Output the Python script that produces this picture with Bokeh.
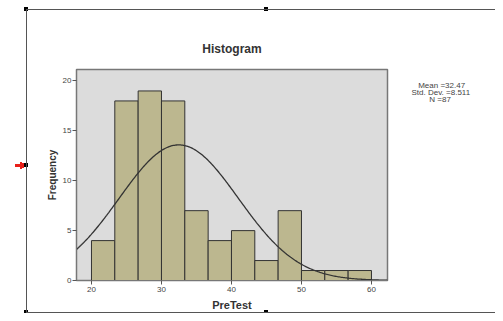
import numpy as np
from bokeh.plotting import figure
from bokeh.models import (FixedTicker, LinearAxis, ColumnDataSource, Range1d)
from bokeh.embed import file_html
from bokeh.resources import INLINE

# ---- data ----
counts = [4, 18, 19, 18, 7, 4, 5, 2, 7, 1, 1, 1]
bin_start = 20.0
bin_end = 60.0
mean = 32.47
std_dev = 8.511
n_obs = 87
x_ticks = [20, 30, 40, 50, 60]
y_ticks = [0, 5, 10, 15, 20]
stats_lines = ["Mean =32.47", "Std. Dev. =8.511", "N =87"]

FONT = "Liberation Sans"
X0, X1 = 17.86, 62.29
Y0, Y1 = 0.0, 21.15
FL, FT, FR, FB = 76, 69, 387, 282   # frame edges in canvas px
W, H = 495, 313
ky = (FB - FT) / (Y1 - Y0)

nb = len(counts)
width = (bin_end - bin_start) / nb
edges = bin_start + width * np.arange(nb + 1)
src = ColumnDataSource(dict(left=edges[:-1], right=edges[1:], top=counts,
                            bottom=[0] * nb))

# decorative outer chart frame, handles and red marker (page decoration)
deco = [  # (x, y, w, h, colour)
    (26, 9, 469, 1, "#555555"),
    (26, 9, 1, 304, "#555555"),
    (26, 312, 469, 1, "#555555"),
    (24, 7, 4, 4, "#000000"),
    (264, 7, 4, 4, "#000000"),
    (24, 163, 4, 4, "#000000"),
    (24, 310, 4, 4, "#000000"),
    (264, 310, 4, 4, "#000000"),
    (15, 164, 6, 3, "#e8201a"),
    (20, 162, 2, 7, "#e8201a"),
    (22, 163, 2, 5, "#e8201a"),
]
styles = {
    "background-image": ", ".join(f"linear-gradient({c},{c})" for *_, c in deco),
    "background-position": ", ".join(f"{x}px {y}px" for x, y, *_ in deco),
    "background-size": ", ".join(f"{w}px {h}px" for _, _, w, h, _ in deco),
    "background-repeat": "no-repeat",
}

p = figure(width=W, height=H, output_backend="svg", toolbar_location=None,
           x_range=Range1d(X0, X1), y_range=Range1d(Y0, Y1),
           min_border_left=FL, min_border_right=W - FR, min_border_top=FT,
           min_border_bottom=H - FB, styles=styles)
p.background_fill_color = "#dcdcdc"
p.border_fill_alpha = 0.0
p.outline_line_color = "#777777"
p.outline_line_width = 1.5
p.grid.visible = False

p.title.text = "Histogram"
p.title.align = "center"
p.title.text_font = FONT
p.title.text_font_size = "12px"
p.title.text_color = "#333333"
p.title.standoff = 28

p.quad(left="left", right="right", top="top", bottom="bottom", source=src,
       fill_color="#bcb78f", line_color="#333333", line_width=1)

xs = np.linspace(X0, X1, 300)
ys = n_obs * width / (std_dev * np.sqrt(2 * np.pi)) * np.exp(-0.5 * ((xs - mean) / std_dev) ** 2)
p.line(xs, ys, line_color="#333333", line_width=1.3)

for ax in (p.xaxis[0], p.yaxis[0]):
    ax.axis_line_color = "#777777"
    ax.major_tick_line_color = "#555555"
    ax.minor_tick_line_color = None
    ax.major_tick_out = 4
    ax.major_tick_in = 0
    ax.major_label_text_font = FONT
    ax.major_label_text_font_size = "8px"
    ax.major_label_text_color = "#444444"
    ax.axis_label_text_font = FONT
    ax.axis_label_text_font_style = "bold"
    ax.axis_label_text_color = "#333333"

p.xaxis.ticker = FixedTicker(ticks=x_ticks)
p.yaxis.ticker = FixedTicker(ticks=y_ticks)
p.xaxis.axis_label = "PreTest"
p.xaxis.axis_label_text_font_size = "11px"
p.xaxis.major_label_standoff = 2
p.xaxis.axis_label_standoff = 4
p.yaxis.axis_label = "Frequency"
p.yaxis.axis_label_text_font_size = "10px"
p.yaxis.major_label_standoff = 1
p.yaxis.axis_label_standoff = 2

# statistics text, shown as labels of an unlined axis on the right
stat_rows_px = [85.5, 92.2, 98.9]
stat_pad = [3, 0, 8]
stat_ticks = [round(Y0 + (FB - py) / ky, 2) for py in stat_rows_px]
overrides = {t: "\u00a0" * n + s for t, s, n in zip(stat_ticks, stats_lines, stat_pad)}
stats_axis = LinearAxis(ticker=FixedTicker(ticks=stat_ticks),
                        major_label_overrides=overrides,
                        axis_line_color=None, major_tick_line_color=None,
                        minor_tick_line_color=None, major_tick_out=0,
                        major_tick_in=0, major_label_standoff=24,
                        major_label_text_font=FONT,
                        major_label_text_font_size="8px",
                        major_label_text_color="#444444")
p.add_layout(stats_axis, "right")

open("out.html", "w").write(file_html(p, INLINE))
